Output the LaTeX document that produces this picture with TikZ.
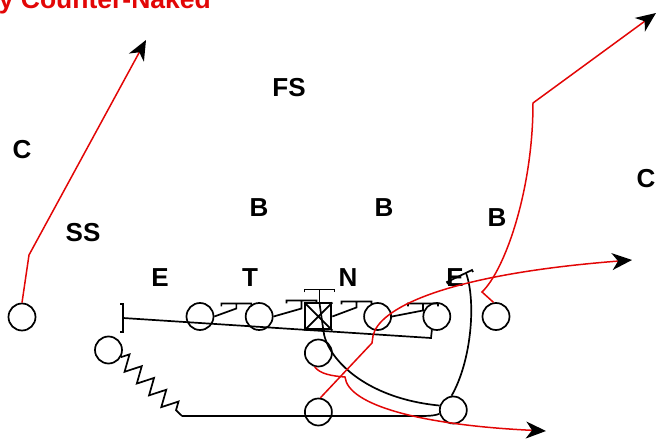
\documentclass[tikz,border=0pt]{standalone}
\usepackage{fontspec}
\setmainfont{Liberation Sans}
\usetikzlibrary{positioning,arrows.meta,decorations.pathmorphing}
\definecolor{playred}{RGB}{226,6,6}
\tikzset{
  player/.style={circle,draw,minimum size=27pt,inner sep=0pt},
  snapbox/.style={draw,line width=2pt,minimum size=26pt,inner sep=0pt},
  defender/.style={font=\fontsize{26}{26}\selectfont\bfseries,inner sep=0pt},
  redrun/.style={draw=playred,line width=1.5pt,-{Stealth[color=black,length=20pt,width=17pt,inset=6pt]}}
}
\begin{document}
\begin{tikzpicture}[x=1pt,y=-1pt,line width=1.7pt,node distance=59.2pt]
\useasboundingbox (0,0) rectangle (657,441);
% title
\node [anchor=base west,inner sep=0pt,text=playred,font=\fontsize{26.5}{26.5}\selectfont\bfseries] (title) at (-2,8.5) {y Counter-Naked};
% defense
\node [defender] (fs) at (289,88) {FS};
\node [defender] (cl) at (22,150) {C};
\node [defender] (ss) at (83,233) {SS};
\node [defender] (wl) at (259,208) {B};
\node [defender] (ml) at (384,208) {B};
\node [defender] (sl) at (497,218) {B};
\node [defender] (cr) at (646,179) {C};
\node [defender] (el) at (160,278) {E};
\node [defender] (tk) at (250,278) {T};
\node [defender] (ng) at (348,278) {N};
\node [defender] (er) at (455,278) {E};
% offense
\node [player] (lt) at (200,316.5) {};
\node [player] (lg) [right of=lt] {};
\node [snapbox] (c) [right of=lg] {};
\node [player] (rg) [right of=c] {};
\node [player] (rt) [right of=rg] {};
\node [player] (te) [right of=rt] {};
\node [player] (x) at (22,317) {};
\node [player] (wb) at (108.5,350) {};
\node [player] (qb) at (318.4,353) {};
\node [player] (fb) at (318.4,412) {};
\node [player] (hb) at (453.3,410) {};
\draw (c.north west) -- (c.south east) (c.north east) -- (c.south west);
% blocks
\draw (lt.east) -- ++(22,-8) -- ++(0,-5) ++(-15,3) -- ++(0,-3) -- ++(30,0) -- ++(0,3);
\draw (lg.east) -- ++(28,-8) -- ++(0,-8) ++(-15,3) -- ++(0,-3) -- ++(30,0) -- ++(0,3);
\draw ([xshift=1pt]c.north) -- ++(0,-13) ++(-15,3) -- ++(0,-3) -- ++(30,0) -- ++(0,3);
\draw (c.east) -- ++(24,-9) -- ++(0,-6) ++(-15,3) -- ++(0,-3) -- ++(30,0) -- ++(0,3);
\draw (rg.east) -- ++(31,-6) -- ++(0,-7) ++(-15,3) -- ++(0,-3) -- ++(30,0) -- ++(0,3);
\coordinate (brk) at (123,318);
\draw (brk) ++(-3,-14) -- ++(3,0) -- ++(0,28) -- ++(-3,0);
\draw (brk) -- ++(308,20) -- (rt.250);
\draw ([xshift=1pt]c.north) -- ([xshift=5pt]c.south) .. controls (326,356) and (362,398) .. (hb.162);
% motion and kick out
\coordinate (zz) at (182,416);
\draw [decorate,decoration={zigzag,segment length=17pt,amplitude=8pt}] (wb.-30) -- (zz);
\draw (zz) -- (421,416) .. controls (432,416) and (437,415) .. (hb.195);
\coordinate (eblk) at (466,273);
\draw (hb.97) .. controls (472,360) and (476,300) .. (eblk);
\draw (eblk) ++(-18,11) -- ++(-1,-2) -- ++(25,-12) -- ++(1,2);
% routes
\coordinate (xtip) at (146,40);
\draw [redrun] (x.north) -- (29,255) -- (xtip);
\coordinate (ttip) at (656,13);
\draw [redrun] (te.100) -- (482,292) .. controls (505,270) and (533,190) .. (533,103) -- (ttip);
\coordinate (qtip) at (546,431);
\draw [redrun] (qb.255) .. controls (320,374) and (332,376) .. (345,377) .. controls (348,405) and (420,425) .. (qtip);
\coordinate (ftip) at (632,260);
\draw [redrun] (fb.82) -- (372,343) -- (373,336) .. controls (378,310) and (440,275) .. (ftip);
\end{tikzpicture}
\end{document}
